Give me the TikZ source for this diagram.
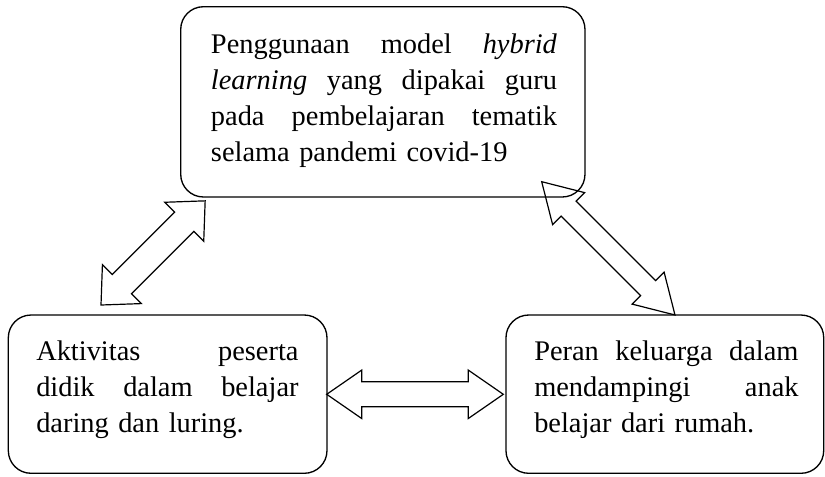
\documentclass[tikz,border=0pt]{standalone}
\usepackage{fontspec}
\setmainfont{Liberation Serif}
\newcommand\jline[2]{\leavevmode\hbox to #1{#2}}
\begin{document}
\begin{tikzpicture}[x=0.75pt,y=-0.75pt,
  box/.style={draw, line width=1pt, rounded corners=17pt, inner sep=0pt},
  txt/.style={anchor=base west, inner sep=0pt, font=\fontsize{21.3pt}{27pt}\selectfont},
  blockarrow/.style={draw, line width=0.9pt, line join=miter},
]
\useasboundingbox (0,0) rectangle (825,476);

% boxes
\node[box, minimum width=303.2pt, minimum height=142.7pt] (top) at (382.85,101.85) {};
\node[box, minimum width=239pt, minimum height=118.7pt] (left) at (167.65,394.15) {};
\node[box, minimum width=238.3pt, minimum height=118.7pt] (right) at (664.85,394.15) {};

% texts (justified lines)
\node[txt, text width=259.5pt] (toptext) at (210.7,53.3) {%
\jline{259.5pt}{Penggunaan\hfill model\hfill\textit{hybrid}}\\
\jline{259.5pt}{\textit{learning}\hfill yang\hfill dipakai\hfill guru}\\
\jline{259.5pt}{pada\hfill pembelajaran\hfill tematik}\\
\jline{259.5pt}{selama pandemi covid-19\hfil}};

\node[txt, text width=196.7pt] (lefttext) at (36,360.7) {%
\jline{196.7pt}{Aktivitas\hfill peserta}\\
\jline{196.7pt}{didik\hfill dalam\hfill belajar}\\
\jline{196.7pt}{daring dan luring.\hfil}};

\node[txt, text width=198.2pt] (righttext) at (534,360.7) {%
\jline{198.2pt}{Peran\hfill keluarga\hfill dalam}\\
\jline{198.2pt}{mendampingi\hfill anak}\\
\jline{198.2pt}{belajar dari rumah.\hfil}};

% arrow end points
\coordinate (la) at (101,305);
\coordinate (lb) at (205,200.7);
\coordinate (ra) at (541.7,181.7);
\coordinate (rb) at (675,315);
\coordinate (ha) at (326.7,394.3);
\coordinate (hb) at (503.3,394.3);

% left diagonal double arrow (la -> lb)
\begin{scope}[shift={(la)}, rotate=45]
\draw[blockarrow] (0,0) -- (29.5,27.5) -- (29.5,13.6) -- (117.8,13.6) -- (117.8,27.5)
  -- (147.3,0) -- (117.8,-27.5) -- (117.8,-13.6) -- (29.5,-13.6) -- (29.5,-27.5) -- cycle;
\end{scope}

% right diagonal double arrow (ra -> rb)
\begin{scope}[shift={(ra)}, rotate=-45]
\draw[blockarrow] (0,0) -- (38,22.6) -- (38,10.6) -- (150.5,10.6) -- (150.5,22.6)
  -- (188.5,0) -- (150.5,-22.6) -- (150.5,-10.6) -- (38,-10.6) -- (38,-22.6) -- cycle;
\end{scope}

% horizontal double arrow (ha -> hb)
\begin{scope}[shift={(ha)}]
\draw[blockarrow] (0,0) -- (35,24.2) -- (35,12.5) -- (141.6,12.5) -- (141.6,24.2)
  -- (176.6,0) -- (141.6,-24.2) -- (141.6,-12.5) -- (35,-12.5) -- (35,-24.2) -- cycle;
\end{scope}
\end{tikzpicture}
\end{document}
